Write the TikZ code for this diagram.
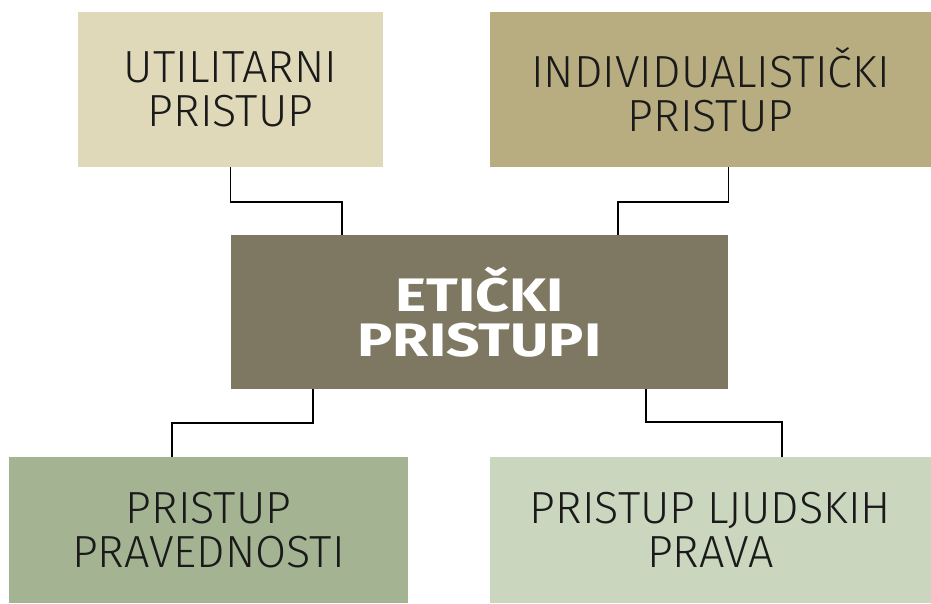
\documentclass[tikz,border=0pt]{standalone}
\usepackage{fontspec}
\setmainfont{Fira Sans}[UprightFont=* Light, BoldFont=* Bold, BoldFeatures={FakeStretch=1.25}]
\usepackage{tikz}
\usepackage{xcolor}
\usetikzlibrary{positioning}

\definecolor{utilcol}{HTML}{E0D9B9}
\definecolor{indivcol}{HTML}{B8AD80}
\definecolor{eticcol}{HTML}{7E7862}
\definecolor{pravcol}{HTML}{A4B493}
\definecolor{ljudcol}{HTML}{CBD6BE}
\definecolor{txtcol}{HTML}{1A1A1A}

\begin{document}
\begin{tikzpicture}[x=1pt, y=1pt,
        box/.style={rectangle, inner sep=0pt, align=center, text=txtcol,
            font=\fontsize{45}{44}\selectfont},
        link/.style={draw=black, line width=1.6pt}]
            \useasboundingbox (0, 0) rectangle (931, 603);
            \node[box, fill=utilcol, minimum width=305pt, minimum height=155pt] (util) at (230.5, 513.5) {UTILITARNI\\PRISTUP};
            \node[box, fill=indivcol, minimum width=441pt, minimum height=155pt] (indiv) at (710.5, 513.5) {INDIVIDUALISTIČKI\\PRISTUP};
            \node[box, fill=eticcol, minimum width=497pt, minimum height=154pt, text=white, font=\fontsize{47}{45}\selectfont\bfseries] (etic) at (479.5, 291) {ETIČKI\\PRISTUPI};
            \node[box, fill=pravcol, minimum width=399pt, minimum height=146pt] (prav) at (208.5, 73) {PRISTUP\\PRAVEDNOSTI};
            \node[box, fill=ljudcol, minimum width=441pt, minimum height=146pt] (ljud) at (710.5, 73) {PRISTUP LJUDSKIH\\PRAVA};

            \draw[link] (util.south) -- ++(0, -35) -| ([xshift=-137.5pt]etic.north);
            \draw[link] ([xshift=18pt]indiv.south) -- ++(0, -35) -| ([xshift=138.5pt]etic.north);
            \draw[link] ([xshift=-166.5pt]etic.south) -- ++(0, -34) -| ([xshift=-36.5pt]prav.north);
            \draw[link] ([xshift=166.5pt]etic.south) -- ++(0, -33) -| ([xshift=71.5pt]ljud.north);
        \end{tikzpicture}
\end{document}
